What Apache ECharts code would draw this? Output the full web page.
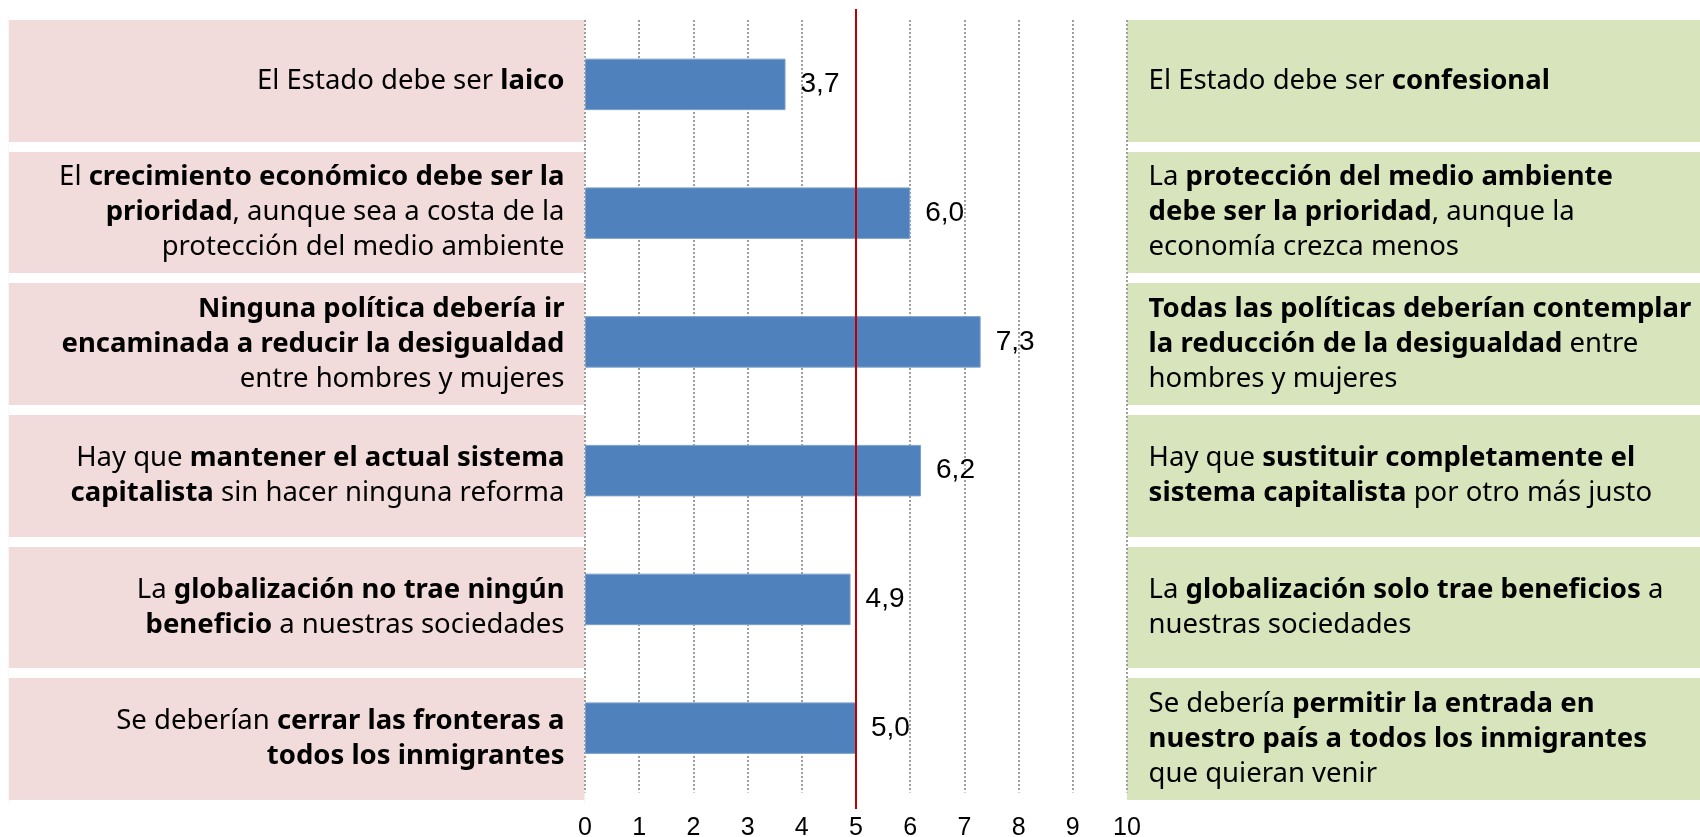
<!DOCTYPE html>
<html>
<head>
<meta charset="utf-8">
<script src="https://cdn.jsdelivr.net/npm/echarts@6/dist/echarts.min.js"></script>
<style>html,body{margin:0;padding:0;background:#fff}#chart{width:1700px;height:837px}</style>
</head>
<body>
<div id="chart"></div>
<script>
// ---- Data ----
const leftStatements = [
  'El Estado debe ser {b|laico}',
  'El {b|crecimiento económico debe ser la}\n{b|prioridad}, aunque sea a costa de la\nprotección del medio ambiente',
  '{b|Ninguna política debería ir}\n{b|encaminada a reducir la desigualdad}\nentre hombres y mujeres',
  'Hay que {b|mantener el actual sistema}\n{b|capitalista} sin hacer ninguna reforma',
  'La {b|globalización no trae ningún}\n{b|beneficio} a nuestras sociedades',
  'Se deberían {b|cerrar las fronteras a}\n{b|todos los inmigrantes}'
];
const rightStatements = [
  'El Estado debe ser {b|confesional}',
  'La {b|protección del medio ambiente}\n{b|debe ser la prioridad}, aunque la\neconomía crezca menos',
  '{b|Todas las políticas deberían contemplar}\n{b|la reducción de la desigualdad} entre\nhombres y mujeres',
  'Hay que {b|sustituir completamente el}\n{b|sistema capitalista} por otro más justo',
  'La {b|globalización solo trae beneficios} a\nnuestras sociedades',
  'Se debería {b|permitir la entrada en}\n{b|nuestro país a todos los inmigrantes}\nque quieran venir'
];
const scores = [3.7, 6.0, 7.3, 6.2, 4.9, 5.0];
const scaleMin = 0;
const scaleMax = 10;
const scaleStep = 1;
const midpoint = 5;

// ---- Styles ----
const TXT_FONT = '"Noto Sans", sans-serif';
const NUM_FONT = '"Liberation Sans", Arial, sans-serif';
const TXT_SIZE = 27.5;
const PINK = '#F2DCDB';
const GREEN = '#D8E4BC';
const BAR = '#4F81BD';

function richFor(align) {
  return {
    n: { fontFamily: TXT_FONT, fontSize: TXT_SIZE, lineHeight: 35, color: '#000', align: align },
    b: { fontFamily: TXT_FONT, fontSize: TXT_SIZE, lineHeight: 35, color: '#000', fontWeight: 'bold', align: align }
  };
}
function wrapPlain(s) {
  return s.split('\n').map(line => {
    const parts = [];
    const re = /\{b\|([^}]*)\}/g;
    let last = 0, m;
    while ((m = re.exec(line)) !== null) {
      if (m.index > last) parts.push('{n|' + line.slice(last, m.index) + '}');
      parts.push(m[0]);
      last = re.lastIndex;
    }
    if (last < line.length) parts.push('{n|' + line.slice(last) + '}');
    return parts.join('');
  }).join('\n');
}

const boxTop = 15, boxBottom = 32.4;
const plotLeft = 585, plotRight = 573;

const option = {
  animation: false,
  backgroundColor: '#fff',
  grid: [
    { left: 8.7, right: 1700 - 584.5, top: boxTop, bottom: boxBottom, outerBoundsMode: 'none', containLabel: false },
    { left: 1127, right: -10, top: boxTop, bottom: boxBottom, outerBoundsMode: 'none', containLabel: false },
    { left: plotLeft, right: plotRight, top: 20, bottom: 44.5, outerBoundsMode: 'none', containLabel: false },
    { left: plotLeft, right: plotRight, top: 9, bottom: 28, outerBoundsMode: 'none', containLabel: false }
  ],
  xAxis: [
    { gridIndex: 0, type: 'value', min: 0, max: 1, show: false },
    { gridIndex: 1, type: 'value', min: 0, max: 1, show: false },
    {
      gridIndex: 2, type: 'value', min: scaleMin, max: scaleMax, interval: scaleStep,
      axisLine: { show: false }, axisTick: { show: false },
      splitLine: { show: true, lineStyle: { color: '#9E9E9E', width: 2, type: [2, 2] } },
      axisLabel: { fontFamily: NUM_FONT, fontSize: 25, color: '#000', margin: 23 }
    },
    { gridIndex: 3, type: 'value', min: scaleMin, max: scaleMax, show: false }
  ],
  yAxis: [
    {
      gridIndex: 0, type: 'category', inverse: true, position: 'right',
      data: leftStatements.map(wrapPlain),
      axisLine: { show: false }, axisTick: { show: false },
      splitArea: { show: true, areaStyle: { color: [PINK, PINK] } },
      splitLine: { show: true, lineStyle: { color: '#fff', width: 10 } },
      axisLabel: {
        inside: true, margin: 20, align: 'right', verticalAlign: 'middle',
        fontFamily: TXT_FONT, fontSize: TXT_SIZE, lineHeight: 35, color: '#000',
        rich: richFor('right')
      }
    },
    {
      gridIndex: 1, type: 'category', inverse: true, position: 'left',
      data: rightStatements.map(wrapPlain),
      axisLine: { show: false }, axisTick: { show: false },
      splitArea: { show: true, areaStyle: { color: [GREEN, GREEN] } },
      splitLine: { show: true, lineStyle: { color: '#fff', width: 10 } },
      axisLabel: {
        inside: true, margin: 21.6, align: 'left', verticalAlign: 'middle',
        fontFamily: TXT_FONT, fontSize: TXT_SIZE, lineHeight: 35, color: '#000',
        rich: richFor('left')
      }
    },
    {
      gridIndex: 2, type: 'category', inverse: true,
      data: leftStatements.map((_, i) => 'item' + (i + 1)),
      show: false
    },
    { gridIndex: 3, type: 'category', data: ['ref'], show: false }
  ],
  series: [
    {
      type: 'bar', xAxisIndex: 2, yAxisIndex: 2, data: scores,
      barWidth: '40%', z: 3,
      itemStyle: { color: BAR, borderColor: '#7FA1CC', borderWidth: 1 },
      label: {
        show: true, position: 'right', distance: 15,
        fontFamily: NUM_FONT, fontSize: 28, color: '#000',
        formatter: p => p.value.toFixed(1).replace('.', ',')
      },
      silent: true
    },
    {
      type: 'line', xAxisIndex: 3, yAxisIndex: 3, data: [], z: 5, silent: true,
      markLine: {
        silent: true, symbol: 'none', label: { show: false },
        lineStyle: { color: '#C00000', width: 2, type: 'solid' },
        data: [{ xAxis: midpoint }]
      }
    }
  ]
};

const chart = echarts.init(document.getElementById('chart'), null, { renderer: 'canvas' });
chart.setOption(option);
</script>
</body>
</html>
